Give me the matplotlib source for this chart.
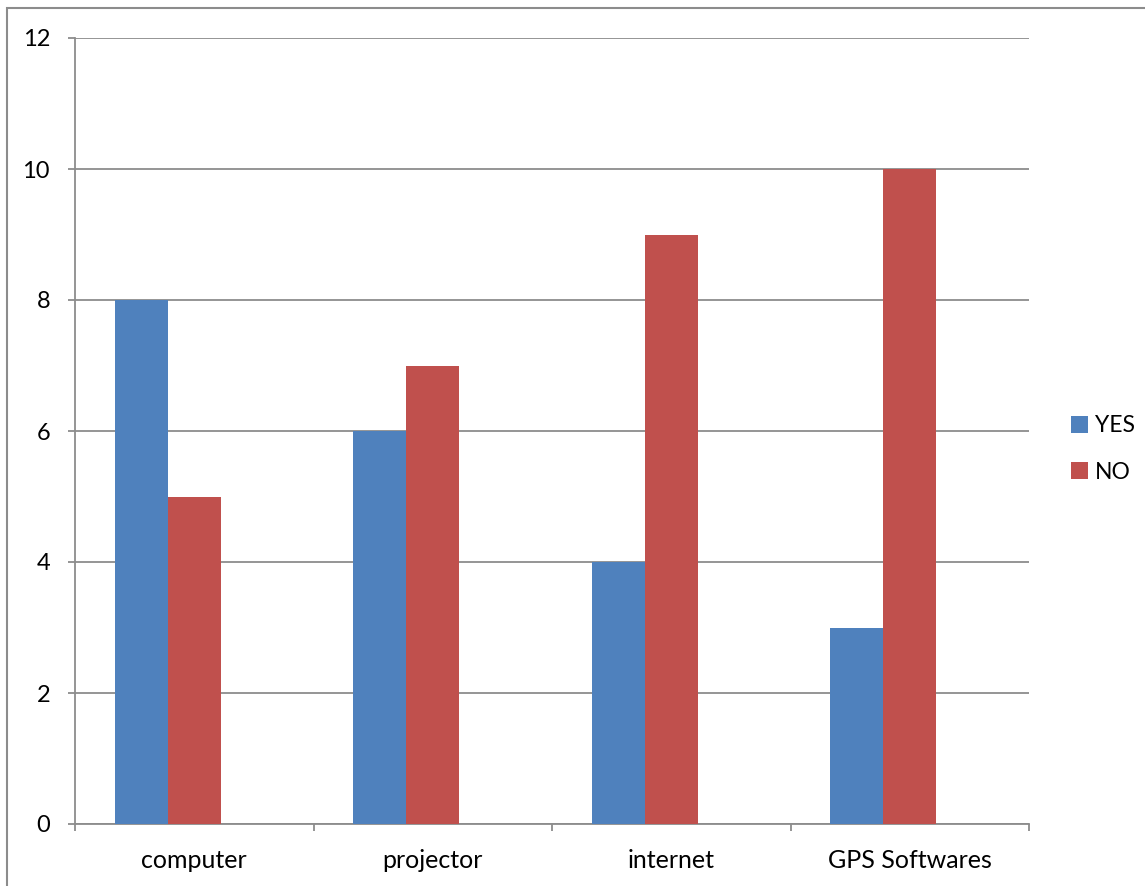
import matplotlib
matplotlib.use("Agg")
import matplotlib.pyplot as plt
from matplotlib.patches import Rectangle
import numpy as np

categories = ["computer", "projector", "internet", "GPS Softwares"]
yes_values = [8, 6, 4, 3]
no_values = [5, 7, 9, 10]
y_ticks = [0, 2, 4, 6, 8, 10, 12]

plt.rcParams['font.family'] = ['Lato', 'DejaVu Sans']

W, H = 1145, 886
fig = plt.figure(figsize=(W / 100, H / 100), dpi=100)
ax = fig.add_axes([75 / W, 1 - 824 / H, (1029 - 75) / W, (824 - 38) / H])

blue = "#4F81BD"
red = "#C0504D"
grid_c = "#8C8C8C"

x = np.arange(len(categories))
bw = 0.222
ax.bar(x - bw, yes_values, width=bw, color=blue, label="YES", zorder=3)
ax.bar(x, no_values, width=bw, color=red, label="NO", zorder=3)

ax.set_xlim(-0.5, 3.5)
ax.set_ylim(0, 12)
ax.set_yticks(y_ticks)
ax.set_yticklabels([str(v) for v in y_ticks])
ax.yaxis.grid(True, color=grid_c, linewidth=1.3, zorder=0)
ax.set_axisbelow(True)

ax.set_xticks(np.arange(-0.5, 4, 1.0))
ax.set_xticklabels([])
ax.set_xticks(x, minor=True)
ax.set_xticklabels(categories, minor=True)
ax.tick_params(axis="x", which="minor", length=0, pad=18, labelsize=18)
ax.tick_params(axis="x", which="major", length=5, width=1.3, color=grid_c, direction="out")
ax.tick_params(axis="y", length=5, width=1.3, color=grid_c, direction="out", pad=13, labelsize=17)

for s in ["top", "right"]:
    ax.spines[s].set_visible(False)
for s in ["left", "bottom"]:
    ax.spines[s].set_color(grid_c)
    ax.spines[s].set_linewidth(1.3)

fig.legend(loc="center left", bbox_to_anchor=(1050 / W, 1 - 449 / H), frameon=False,
           fontsize=16.5, handlelength=0.75, handleheight=0.75, handletextpad=0.3,
           labelspacing=1.1)

fig.patches.append(Rectangle((7 / W, -0.1), 1.2, 1 - 8 / H + 0.1, transform=fig.transFigure,
                             fill=False, edgecolor=grid_c, linewidth=1.5))

fig.savefig("out.png", dpi=100)
